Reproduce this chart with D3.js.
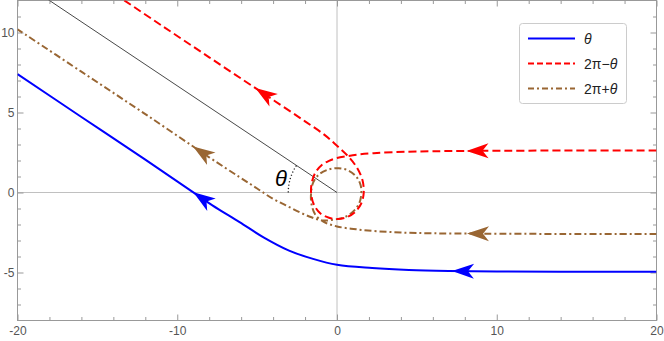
<!DOCTYPE html>
<html>
<head>
<meta charset="utf-8">
<script src="https://cdn.jsdelivr.net/npm/d3@7"></script>
<style>
  body { margin: 0; background: #fff; }
  svg { display: block; font-family: "Liberation Sans", Arial, sans-serif; }
  .tick text { fill: #555; font-size: 12px; }
  .tick line { stroke: #999; }
</style>
</head>
<body>
<div id="chart"></div>
<script>
// axes / ticks
const xMajor = [-20, -10, 0, 10, 20];
const xLabels = ["-20", "-10", "0", "10", "20"];
const xMinor = [-18, -16, -14, -12, -8, -6, -4, -2, 2, 4, 6, 8, 12, 14, 16, 18];
const yMajor = [-5, 0, 5, 10];
const yLabels = ["-5", "0", "5", "10"];
const yMinor = [-7, -6, -4, -3, -2, -1, 1, 2, 3, 4, 6, 7, 8, 9, 11];

// trajectories, in order of motion
const bluePath = [
  [20, -4.96], [14, -4.95], [10, -4.93], [7, -4.9], [4.5, -4.84], [2.2, -4.72],
  [0, -4.52], [-1.5, -4.15], [-3, -3.63], [-4.6, -2.8], [-6.1, -1.85],
  [-7.8, -0.8], [-9.2, 0.15], [-12, 2.05], [-16, 4.72], [-20, 7.4]
];
const redPath = [
  [20, 2.62], [14, 2.62], [10, 2.61], [7, 2.59], [5, 2.56], [3.5, 2.52],
  [2.3, 2.46], [1.4, 2.38], [0.68, 2.28], [0, 2.16], [-0.5, 1.98],
  [-0.95, 1.72], [-1.35, 1.25], [-1.58, 0.6], [-1.62, -0.05], [-1.45, -0.75],
  [-1.05, -1.3], [-0.5, -1.58], [0.05, -1.66], [0.6, -1.55], [1.1, -1.25],
  [1.5, -0.72], [1.67, -0.05], [1.6, 0.75], [1.25, 1.55], [0.68, 2.28],
  [0, 2.92], [-0.78, 3.6], [-2, 4.45], [-3.5, 5.45], [-5.1, 6.52],
  [-8, 8.45], [-11, 10.45], [-13.6, 12.2]
];
const brownPath = [
  [20, -2.59], [14, -2.59], [9, -2.57], [6, -2.55], [4, -2.5], [2.5, -2.42],
  [1.2, -2.3], [0, -2.12], [-0.8, -1.85], [-1.35, -1.4], [-1.6, -0.7],
  [-1.62, 0], [-1.48, 0.65], [-1.1, 1.15], [-0.5, 1.45], [0.1, 1.52],
  [0.7, 1.38], [1.2, 1.0], [1.48, 0.45], [1.52, -0.1], [1.38, -0.7],
  [1.0, -1.2], [0.45, -1.55], [-0.2, -1.7], [-0.9, -1.75], [-1.6, -1.55],
  [-2.35, -1.23], [-3.2, -0.8], [-4.0, -0.4], [-5, 0.25], [-6.1, 0.96],
  [-8, 2.2], [-12, 4.9], [-16, 7.55], [-20, 10.2]
];
const blackLine = [[0, 0], [-18.1, 12.07]];
const thetaDeg = 33.7;
const thetaArcR = 3.05;

// arrow tips (data coords)
const blueArrows = [[7.2, -4.92], [-9.0, 0.0]];
const redArrows = [[8.1, 2.61], [-5.1, 6.52]];
const brownArrows = [[8.15, -2.57], [-9.0, 2.9]];

const legendLabels = ["θ", "2π−θ", "2π+θ"];

const width = 664, height = 341;
const x = d3.scaleLinear().domain([-20, 20]).range([17.5, 656.5]);
const y = d3.scaleLinear().domain([-8, 12]).range([320.5, 0.5]);

const svg = d3.select("#chart").append("svg")
  .attr("width", width)
  .attr("height", height);

svg.append("defs").append("clipPath").attr("id", "plot")
  .append("rect")
  .attr("x", x(-20)).attr("y", y(12))
  .attr("width", x(20) - x(-20)).attr("height", y(-8) - y(12));

// axis lines through the origin
svg.append("line")
  .attr("x1", x(-20)).attr("x2", x(20)).attr("y1", y(0)).attr("y2", y(0))
  .attr("stroke", "#c0c0c0");
svg.append("line")
  .attr("x1", x(0)).attr("x2", x(0)).attr("y1", y(-8)).attr("y2", y(12))
  .attr("stroke", "#c0c0c0");

// frame ticks
function addAxis(axis, tx, ty) {
  const g = svg.append("g").attr("transform", `translate(${tx},${ty})`).call(axis);
  g.select(".domain").remove();
  return g;
}
addAxis(d3.axisBottom(x).tickValues(xMajor).tickSize(-6).tickPadding(6)
  .tickFormat((d, i) => xLabels[i]), 0, y(-8));
addAxis(d3.axisBottom(x).tickValues(xMinor).tickSize(-3.5).tickFormat(""), 0, y(-8));
addAxis(d3.axisTop(x).tickValues(xMajor).tickSize(-6).tickFormat(""), 0, y(12));
addAxis(d3.axisTop(x).tickValues(xMinor).tickSize(-3.5).tickFormat(""), 0, y(12));
addAxis(d3.axisLeft(y).tickValues(yMajor).tickSize(-6).tickPadding(3)
  .tickFormat((d, i) => yLabels[i]), x(-20), 0);
addAxis(d3.axisLeft(y).tickValues(yMinor).tickSize(-3.5).tickFormat(""), x(-20), 0);
addAxis(d3.axisRight(y).tickValues(yMajor).tickSize(-6).tickFormat(""), x(20), 0);
addAxis(d3.axisRight(y).tickValues(yMinor).tickSize(-3.5).tickFormat(""), x(20), 0);

svg.append("rect")
  .attr("x", x(-20)).attr("y", y(12))
  .attr("width", x(20) - x(-20)).attr("height", y(-8) - y(12))
  .attr("fill", "none").attr("stroke", "#999");

const plot = svg.append("g").attr("clip-path", "url(#plot)");

const line = d3.line()
  .x(d => x(d[0])).y(d => y(d[1]))
  .curve(d3.curveCatmullRom.alpha(0.5));

// reference line and angle mark
plot.append("path")
  .attr("d", d3.line().x(d => x(d[0])).y(d => y(d[1]))(blackLine))
  .attr("fill", "none").attr("stroke", "#333").attr("stroke-width", 0.9);

const arc = d3.path();
const rPx = x(thetaArcR) - x(0);
arc.arc(x(0), y(0), rPx, Math.PI, Math.PI + thetaDeg * Math.PI / 180);
plot.append("path")
  .attr("d", arc.toString())
  .attr("fill", "none").attr("stroke", "#222")
  .attr("stroke-width", 1.3).attr("stroke-dasharray", "1.2,2.2");

svg.append("text")
  .attr("x", 281).attr("y", 186)
  .attr("text-anchor", "middle")
  .style("font-size", "22px").style("font-style", "italic")
  .attr("fill", "#000")
  .text("θ");

const series = [
  { pts: brownPath, color: "#996633", dash: "7,3,2,3", arrows: brownArrows },
  { pts: redPath, color: "#ff0000", dash: "8,4", arrows: redArrows },
  { pts: bluePath, color: "#0000ff", dash: null, arrows: blueArrows }
];

function nearestLen(node, px, py) {
  const total = node.getTotalLength();
  let best = 0, bd = Infinity;
  for (let l = 0; l <= total; l += 0.5) {
    const p = node.getPointAtLength(l);
    const d = (p.x - px) ** 2 + (p.y - py) ** 2;
    if (d < bd) { bd = d; best = l; }
  }
  return best;
}

const head = "M0,0 L-22,-7.5 L-16,0 L-22,7.5 Z";

series.forEach(s => {
  const p = plot.append("path")
    .attr("d", line(s.pts))
    .attr("fill", "none")
    .attr("stroke", s.color)
    .attr("stroke-width", 2)
    .attr("stroke-dasharray", s.dash);
  const node = p.node();
  s.arrows.forEach(a => {
    const l = nearestLen(node, x(a[0]), y(a[1]));
    const p0 = node.getPointAtLength(Math.max(0, l - 2));
    const p1 = node.getPointAtLength(l + 2);
    const tip = node.getPointAtLength(l);
    const ang = Math.atan2(p1.y - p0.y, p1.x - p0.x) * 180 / Math.PI;
    plot.append("path")
      .attr("d", head)
      .attr("fill", s.color)
      .attr("transform", `translate(${tip.x},${tip.y}) rotate(${ang})`);
  });
});

// legend
const lg = svg.append("g");
lg.append("rect")
  .attr("x", 519.5).attr("y", 23.5).attr("width", 107).attr("height", 80)
  .attr("rx", 3).attr("fill", "#fff").attr("stroke", "#ccc");
const legendStyles = [
  { color: "#0000ff", dash: null },
  { color: "#ff0000", dash: "6,3" },
  { color: "#996633", dash: "6,3,2,3" }
];
legendLabels.forEach((t, i) => {
  const ry = 38.5 + i * 25;
  lg.append("line")
    .attr("x1", 528).attr("x2", 575).attr("y1", ry).attr("y2", ry)
    .attr("stroke", legendStyles[i].color).attr("stroke-width", 2)
    .attr("stroke-dasharray", legendStyles[i].dash);
  const txt = lg.append("text")
    .attr("x", 584).attr("y", ry + 5)
    .style("font-size", "14px").attr("fill", "#222");
  if (i === 0) {
    txt.append("tspan").style("font-style", "italic").text("θ");
  } else {
    txt.append("tspan").text(t.slice(0, 3));
    txt.append("tspan").style("font-style", "italic").text("θ");
  }
});
</script>
</body>
</html>
